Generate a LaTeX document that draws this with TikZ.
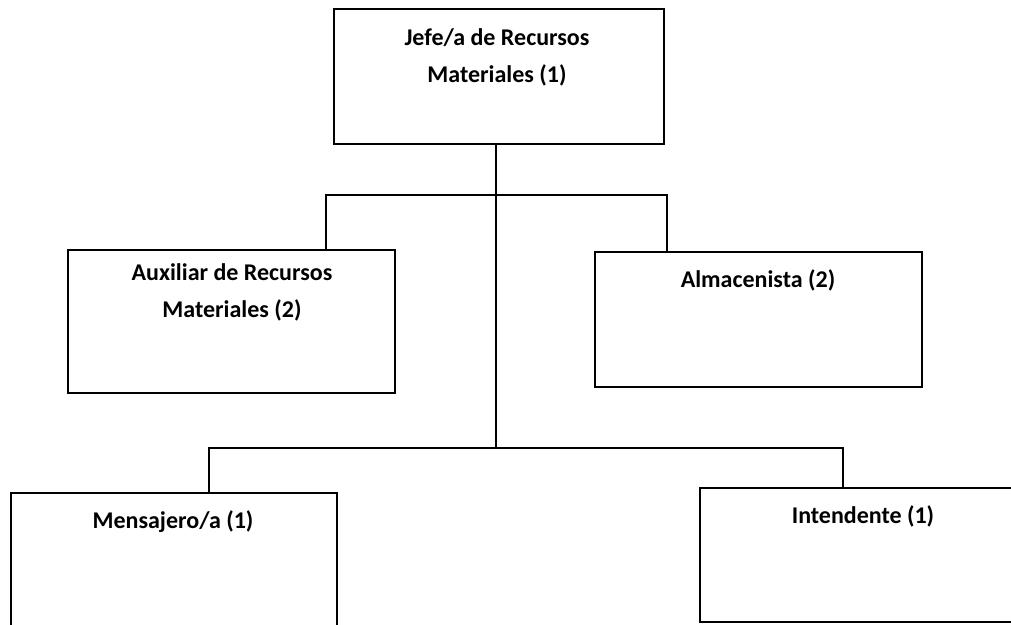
\documentclass[tikz,border=0pt]{standalone}
\usepackage{fontspec}
\setmainfont{Carlito}
\begin{document}
\begin{tikzpicture}[x=1pt,y=-1pt,
  box/.style={draw=black,line width=1.6pt,fill=none},
  lbl/.style={font=\bfseries\fontsize{24}{37}\selectfont,align=center,inner sep=0pt,anchor=base},
  link/.style={draw=black,line width=1.6pt}]
\useasboundingbox (0,0) rectangle (1011,624);
\clip (0,0) rectangle (1011,624);
% boxes
\draw[box] (334,9) rectangle (664,144);
\coordinate (jefeS) at (496,144);
\draw[box] (68,250) rectangle (395,393);
\coordinate (auxN) at (326,250);
\draw[box] (595,252) rectangle (922,387);
\coordinate (almN) at (667,252);
\draw[box] (11,493) rectangle (337,660);
\coordinate (menN) at (209,493);
\draw[box] (700,488) rectangle (1040,622);
\coordinate (intN) at (843,488);
% labels
\node[lbl] (jefe) at (497,82) {Jefe/a de Recursos\\Materiales (1)};
\node[lbl] (aux) at (232,317) {Auxiliar de Recursos\\Materiales (2)};
\node[lbl] (alm) at (758,287) {Almacenista (2)};
\node[lbl] (men) at (173,528) {Mensajero/a (1)};
\node[lbl] (int) at (863,523) {Intendente (1)};
% connectors
\coordinate (hub) at (496,448);
\draw[link] (jefeS) -- (hub);
\draw[link] (auxN) |- (496,195) -| (almN);
\draw[link] (menN) |- (hub) -| (intN);
\end{tikzpicture}
\end{document}
